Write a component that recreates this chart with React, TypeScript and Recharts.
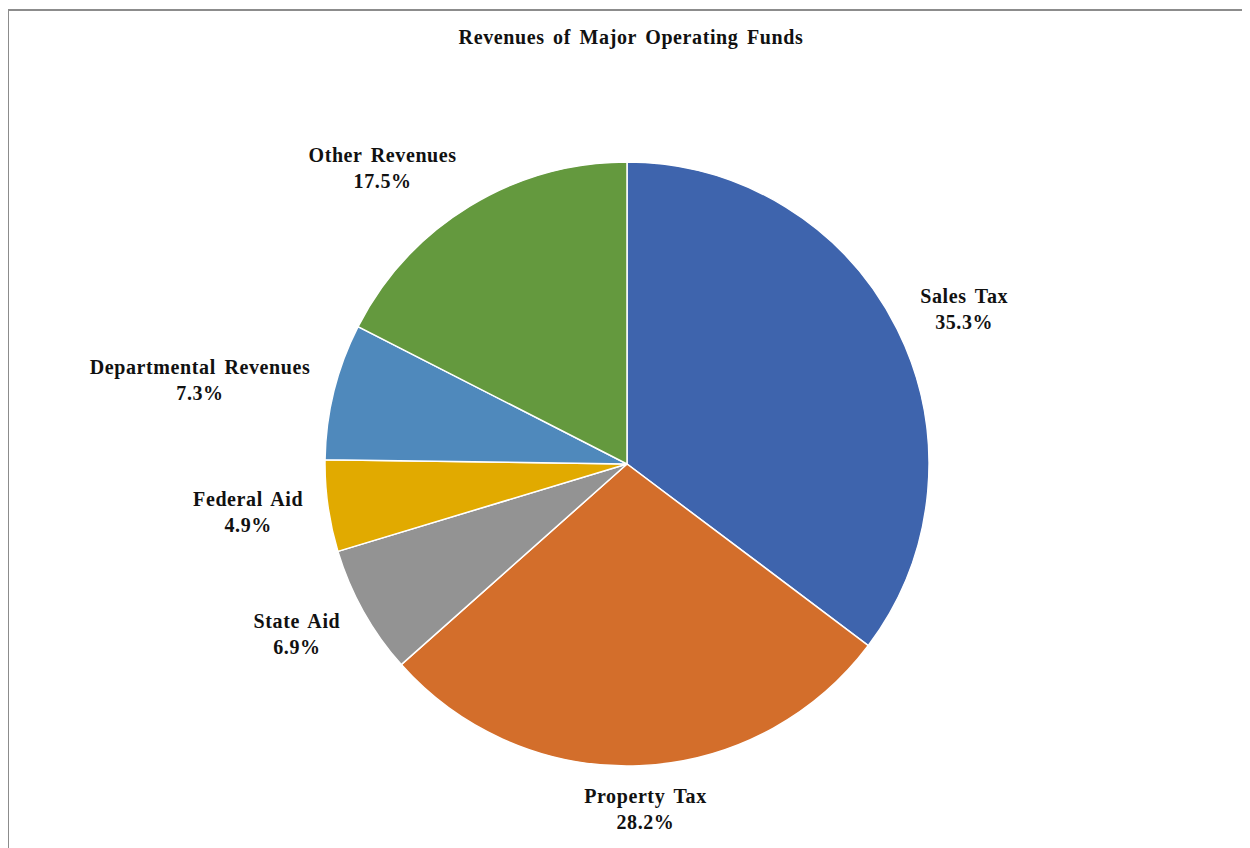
import React from "react";
import { PieChart, Pie, Cell } from "recharts";

const categories = ["Sales Tax", "Property Tax", "State Aid", "Federal Aid", "Departmental Revenues", "Other Revenues"];
const shares = [35.3, 28.2, 6.9, 4.9, 7.3, 17.5];
const colors = ["#3E64AD", "#D36E2B", "#939393", "#E1AA00", "#4F89BC", "#64993E"];

const data = categories.map((name, i) => ({ name, value: shares[i] }));

const FONT = '"Liberation Serif", "Times New Roman", serif';
const RADIAN = Math.PI / 180;

// outside-end labels, pushed out so the box corner sits off the pie edge
const renderLabel = (props: any) => {
  const { cx, cy, midAngle, outerRadius, name, value } = props;
  const cos = Math.cos(midAngle * RADIAN);
  const sin = Math.sin(midAngle * RADIAN);
  const r = outerRadius + 20;
  const ax = cx + r * cos;
  const ay = cy - r * sin;
  const pct = `${value.toFixed(1)}%`;
  const w = Math.max(name.length, pct.length) * 10.9;
  const h = 46;
  const clamp = (v: number) => Math.max(-1, Math.min(1, v));
  const bx = ax + clamp(cos * 2) * (w / 2);
  const by = ay - clamp(sin * 1.1) * (h / 2);
  return (
    <text
      x={bx}
      y={by - 7}
      textAnchor="middle"
      fill="#111"
      fontFamily={FONT}
      fontWeight="bold"
      fontSize={20}
      style={{ letterSpacing: 0.6, wordSpacing: 3 }}
    >
      <tspan x={bx} y={by - 6}>{name}</tspan>
      <tspan x={bx} y={by + 20}>{pct}</tspan>
    </text>
  );
};

export default function App() {
  return (
    <div
      style={{
        position: "relative",
        left: -1,
        top: 1,
        width: 1260,
        height: 860,
        borderTop: "2px solid #8c8c8c",
        borderLeft: "2px solid #8c8c8c",
        background: "#fff",
      }}
    >
      <div
        style={{
          position: "absolute",
          top: 15,
          left: 0,
          width: 1244,
          textAlign: "center",
          fontFamily: FONT,
          fontWeight: "bold",
          fontSize: 20,
          letterSpacing: 0.6,
          wordSpacing: 3,
          color: "#111",
        }}
      >
        Revenues of Major Operating Funds
      </div>
      <PieChart width={1240} height={840} margin={{ top: 0, right: 0, bottom: 0, left: 0 }}>
        <Pie
          data={data}
          dataKey="value"
          nameKey="name"
          cx={618}
          cy={453}
          outerRadius={302}
          startAngle={90}
          endAngle={-270}
          stroke="#ffffff"
          strokeWidth={1.5}
          label={renderLabel}
          labelLine={false}
          isAnimationActive={false}
        >
          {data.map((d, i) => (
            <Cell key={d.name} fill={colors[i]} />
          ))}
        </Pie>
      </PieChart>
    </div>
  );
}
